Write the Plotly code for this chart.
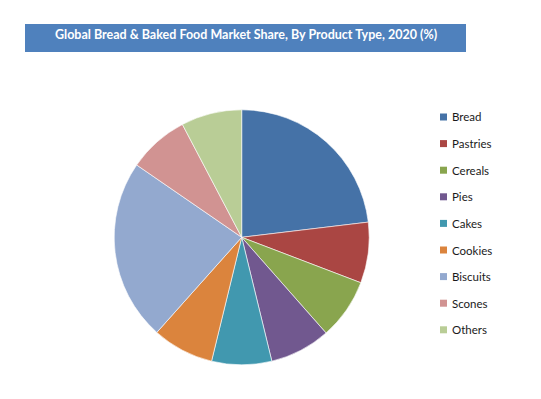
import plotly.graph_objects as go

categories = ["Bread", "Pastries", "Cereals", "Pies", "Cakes", "Cookies", "Biscuits", "Scones", "Others"]
shares = [23.1, 7.7, 7.7, 7.7, 7.6, 7.8, 23.0, 7.7, 7.7]
colors = ["#4572A7", "#AA4643", "#89A54E", "#71588F", "#4198AF", "#DB843D", "#93A9CF", "#D19392", "#B9CD96"]
title_text = "Global Bread & Baked Food Market Share, By Product Type, 2020 (%)"

W, H = 541, 399
cx, cy, r = 241.7, 237.3, 127.5

fig = go.Figure(go.Pie(
    labels=categories, values=shares, sort=False, direction="clockwise", rotation=0,
    marker=dict(colors=colors, line=dict(color="white", width=0.6)),
    textinfo="none", hoverinfo="label+percent", showlegend=False,
    domain=dict(x=[(cx - r) / W, (cx + r) / W], y=[1 - (cy + r) / H, 1 - (cy - r) / H]),
))

# title bar
fig.add_shape(type="rect", xref="paper", yref="paper",
              x0=25 / W, x1=466 / W, y0=1 - 52 / H, y1=1 - 24 / H,
              fillcolor="#4F81BD", line=dict(width=0), layer="below")
fig.add_annotation(text="<b>" + title_text + "</b>", xref="paper", yref="paper",
                   x=245.5 / W, y=1 - 34 / H, showarrow=False, xanchor="center", yanchor="middle",
                   font=dict(family="Lato, Open Sans, sans-serif", size=12.5, color="white"))

# legend
y0, step = 117, 26.6
for i, (name, col) in enumerate(zip(categories, colors)):
    yy = y0 + i * step
    fig.add_shape(type="rect", xref="paper", yref="paper",
                  x0=440 / W, x1=447 / W, y0=1 - (yy + 3.5) / H, y1=1 - (yy - 3.5) / H,
                  fillcolor=col, line=dict(width=0))
    fig.add_annotation(text=name, xref="paper", yref="paper", x=450 / W, y=1 - yy / H,
                       showarrow=False, xanchor="left", yanchor="middle",
                       font=dict(family="Lato, Open Sans, sans-serif", size=11.5, color="#1a1a1a"))

fig.update_layout(width=W, height=H, margin=dict(l=0, r=0, t=0, b=0),
                  paper_bgcolor="white", plot_bgcolor="white")
fig.write_html("out.html")
